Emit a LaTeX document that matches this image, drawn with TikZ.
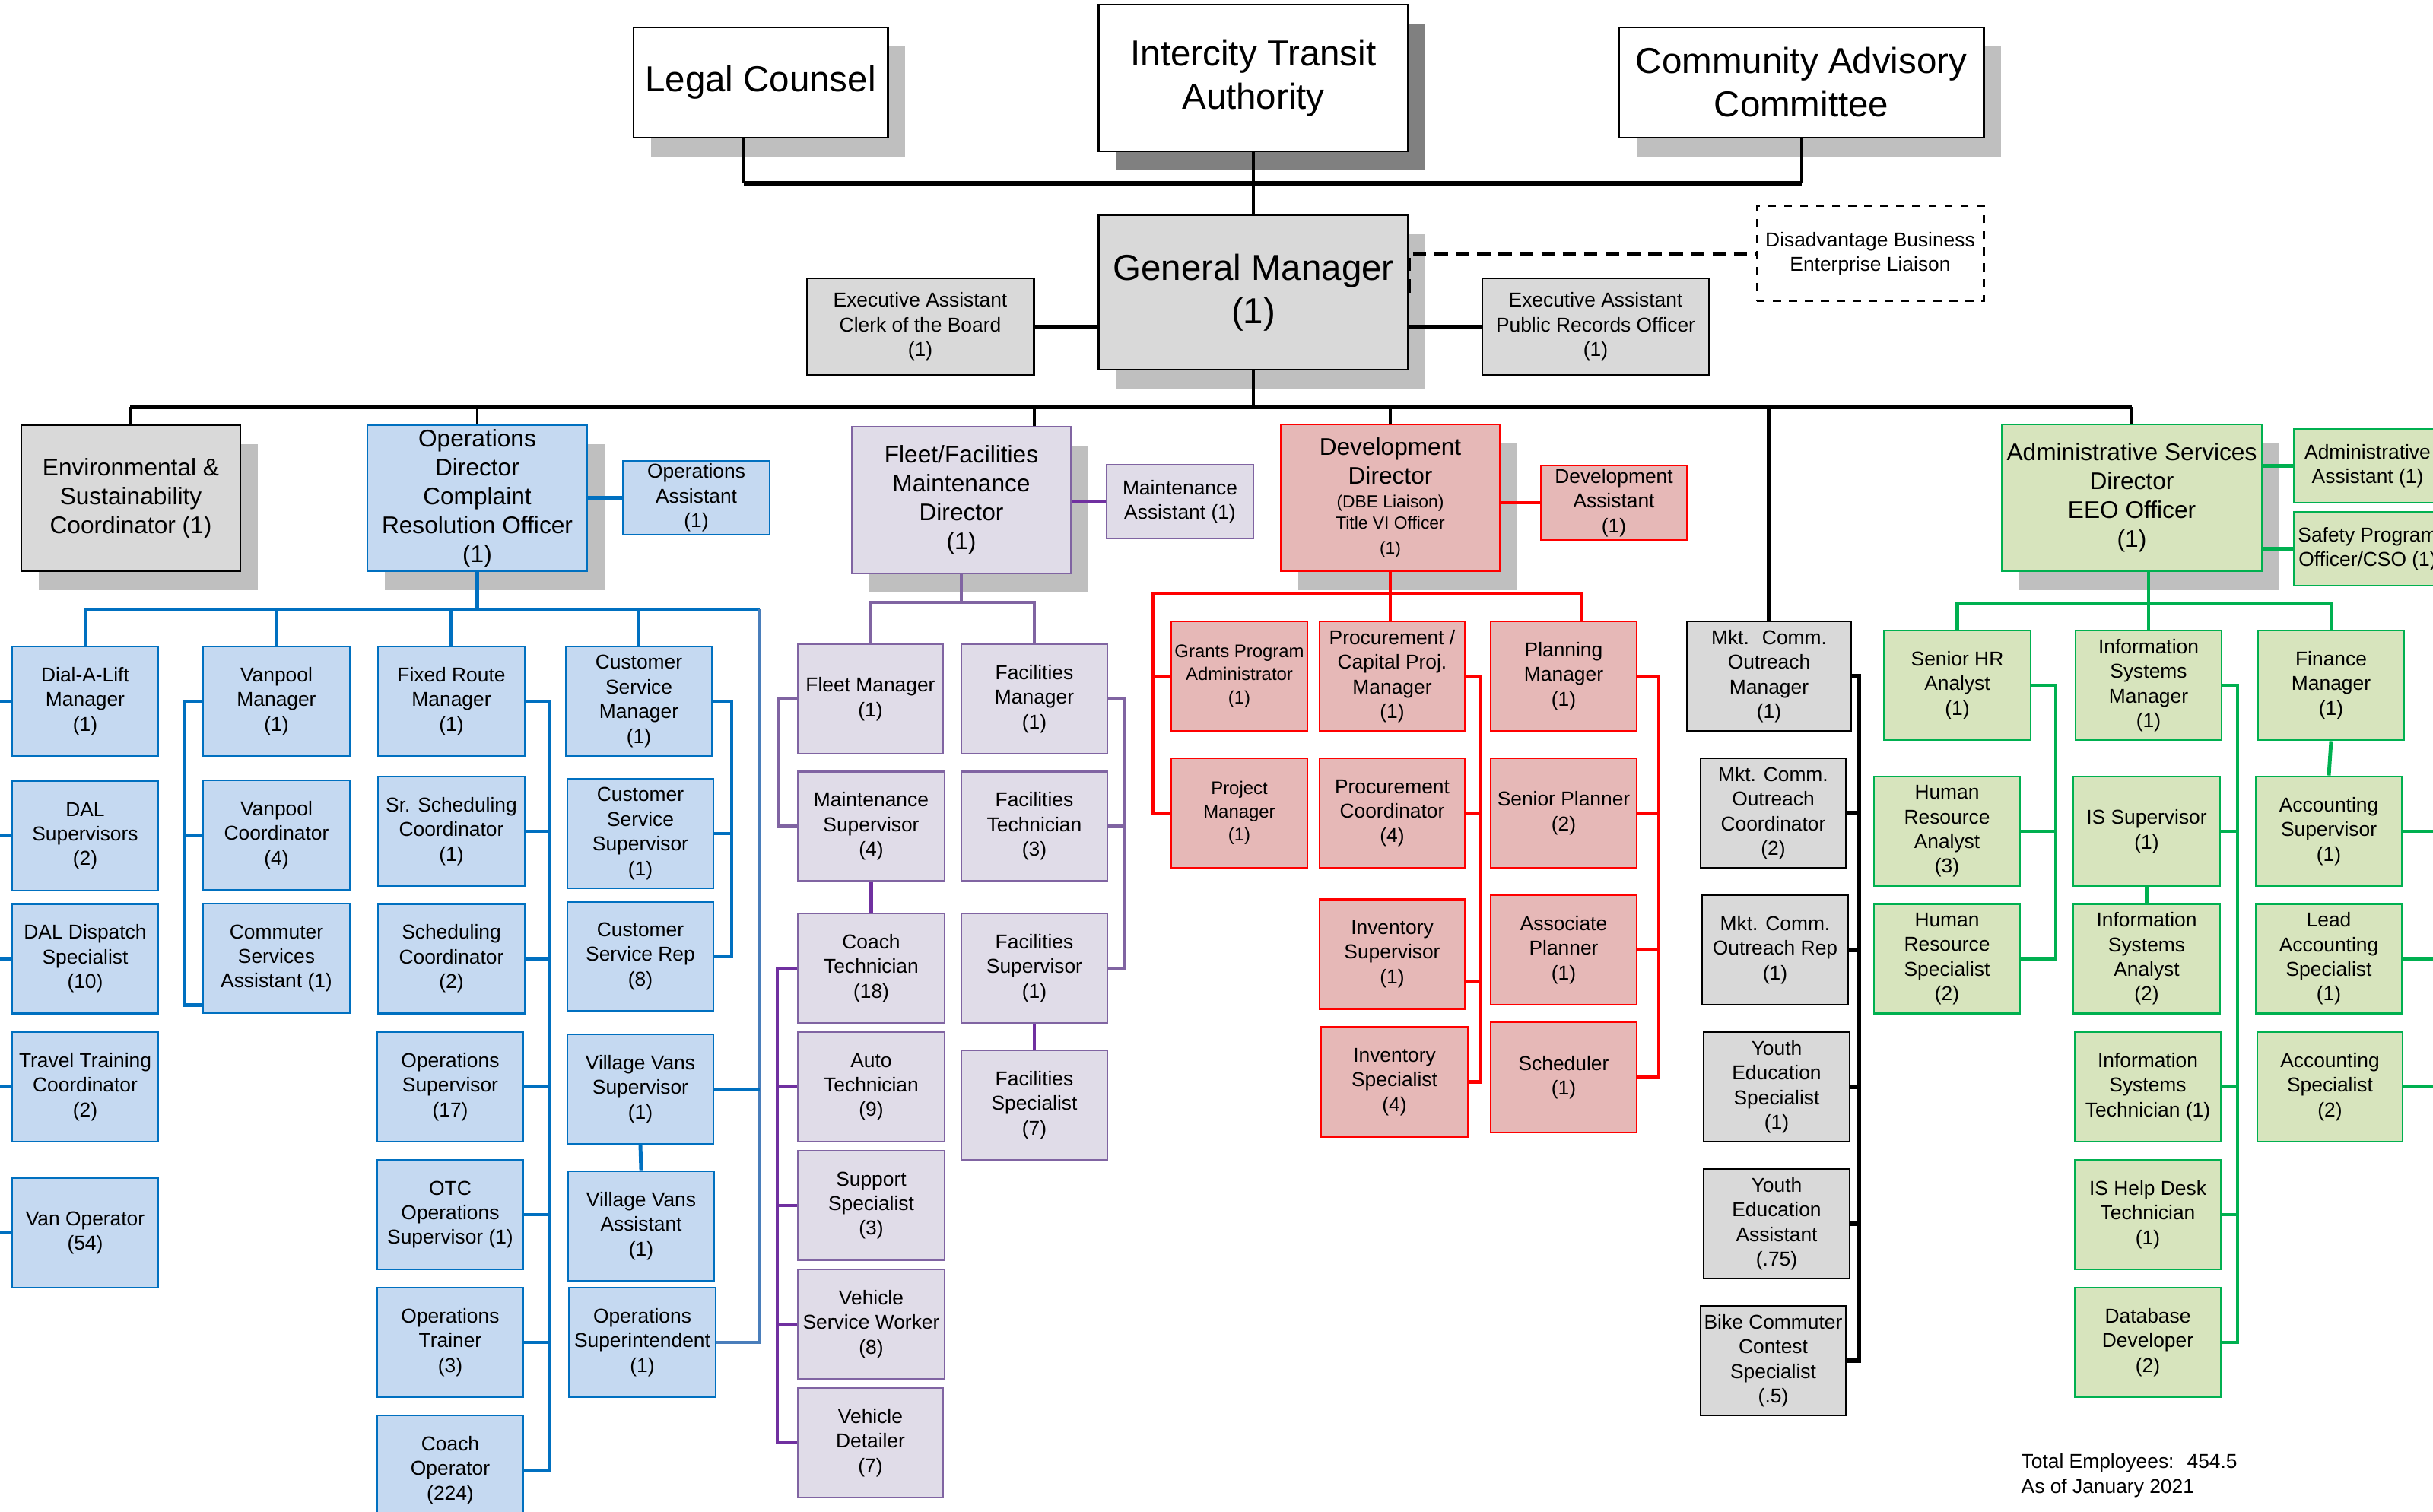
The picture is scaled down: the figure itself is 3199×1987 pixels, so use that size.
\documentclass[tikz,border=0pt]{standalone}
\usepackage{fontspec}
\setmainfont{Liberation Sans}
\usetikzlibrary{shadows,calc}

\definecolor{grayfill}{HTML}{D9D9D9}
\definecolor{shadowgray}{HTML}{BFBFBF}
\definecolor{darkshadow}{HTML}{808080}
\definecolor{opsfill}{HTML}{C5D9F1}
\definecolor{opsdraw}{HTML}{0070C0}
\definecolor{opsdraw2}{HTML}{4A7EBB}
\definecolor{fleetfill}{HTML}{E0DCE8}
\definecolor{fleetdraw}{HTML}{8064A2}
\definecolor{fleetdraw2}{HTML}{7030A0}
\definecolor{devfill}{HTML}{E6B8B7}
\definecolor{devdraw}{HTML}{FF0000}
\definecolor{admfill}{HTML}{D7E4BD}
\definecolor{admdraw}{HTML}{00B050}

\tikzset{
  orgbox/.style={draw, line width=0.8pt, align=center, inner sep=0pt,
    minimum width=1.92cm, minimum height=1.44cm,
    font=\fontsize{7.5}{9.2}\selectfont},
  topbox/.style={orgbox, fill=white, font=\fontsize{13.5}{16.2}\selectfont},
  dirbox/.style={orgbox, minimum width=2.88cm, minimum height=1.92cm,
    font=\fontsize{9}{10.8}\selectfont},
  smalltxt/.style={font=\fontsize{6.8}{8.6}\selectfont},
  boxshadow/.style={drop shadow={shadow xshift=0.23cm, shadow yshift=-0.25cm,
    fill=shadowgray, opacity=1}},
  darkboxshadow/.style={drop shadow={shadow xshift=0.23cm, shadow yshift=-0.25cm,
    fill=darkshadow, opacity=1}},
  graycol/.style={fill=grayfill, draw=black},
  opscol/.style={fill=opsfill, draw=opsdraw},
  fleetcol/.style={fill=fleetfill, draw=fleetdraw},
  devcol/.style={fill=devfill, draw=devdraw},
  admcol/.style={fill=admfill, draw=admdraw},
  thinline/.style={draw=black, line width=1pt},
  thickline/.style={draw=black, line width=1.6pt},
  dashline/.style={draw=black, line width=1.6pt, dash pattern=on 5pt off 3pt},
  opsline/.style={draw=opsdraw, line width=1.4pt},
  opsline2/.style={draw=opsdraw2, line width=1.4pt},
  fleetline/.style={draw=fleetdraw, line width=1.4pt},
  fleetline2/.style={draw=fleetdraw2, line width=1.4pt},
  devline/.style={draw=devdraw, line width=1.4pt},
  admline/.style={draw=admdraw, line width=1.4pt}
}

\begin{document}
\begin{tikzpicture}[x=0.01cm,y=-0.01cm]
\useasboundingbox (0,0) rectangle (3199,1987);
\clip (0,0) rectangle (3199,1987);

% board and general manager
\node[topbox, darkboxshadow, minimum width=4.06cm, minimum height=1.93cm] (ita) at (1648,102.5) {Intercity Transit\\Authority};
\node[topbox, boxshadow, minimum width=3.34cm, minimum height=1.45cm] (legal) at (1000,108.5) {Legal Counsel};
\node[topbox, boxshadow, minimum width=4.79cm, minimum height=1.45cm] (cac) at (2368.5,108.5) {Community Advisory\\Committee};
\node[orgbox, graycol, boxshadow, font=\fontsize{13.5}{16.2}\selectfont, minimum width=4.06cm, minimum height=2.03cm] (gm) at (1648,384.5) {General Manager\\(1)};
\node[orgbox, graycol, minimum width=2.98cm, minimum height=1.27cm] (eaclerk) at (1210,429.5) {Executive Assistant\\Clerk of the Board\\(1)};
\node[orgbox, graycol, minimum width=2.98cm, minimum height=1.27cm] (eapublic) at (2098,429.5) {Executive Assistant\\Public Records Officer\\(1)};
\node[orgbox, dashed, fill=white, minimum width=2.98cm, minimum height=1.25cm] (dbe) at (2459,333.5) {Disadvantage Business\\Enterprise Liaison};

\coordinate (topbarL) at (978,241);
\draw[thickline] (topbarL) -- (topbarL -| cac.south);
\draw[thinline] (topbarL |- legal.south) -- (topbarL);
\draw[thinline] (cac.south) -- (cac.south |- topbarL);
\draw[thinline] (ita.south) -- (gm.north);
\draw[thickline] (gm.west |- eaclerk.east) -- (eaclerk.east);
\draw[thickline] (gm.east |- eapublic.west) -- (eapublic.west);
\draw[dashline] (gm.east) |- (dbe.west);

% directors
\node[dirbox, graycol, boxshadow] (env) at (172,655) {Environmental \&\\Sustainability\\Coordinator (1)};
\node[dirbox, opscol, boxshadow, minimum width=2.89cm] (opsdir) at (627.5,655) {Operations\\Director\\Complaint\\Resolution Officer\\(1)};
\node[orgbox, opscol, minimum width=1.93cm, minimum height=0.97cm] (opsasst) at (915.5,654.5) {Operations\\Assistant\\(1)};
\node[dirbox, fleetcol, boxshadow, minimum height=1.93cm] (fleetdir) at (1264,657.5) {Fleet/Facilities\\Maintenance\\Director\\(1)};
\node[orgbox, fleetcol, minimum width=1.93cm, minimum height=0.97cm] (maintasst) at (1551.5,659.5) {Maintenance\\Assistant (1)};
\node[dirbox, devcol, boxshadow, minimum height=1.93cm] (devdir) at (1828,654.5) {Development\\Director\\[-2pt]{\fontsize{6.5}{8}\selectfont(DBE Liaison)}\\[-2.8pt]{\fontsize{6.5}{8}\selectfont Title VI Officer}\\[-1.6pt]{\fontsize{6.5}{8}\selectfont(1)}};
\node[orgbox, devcol, minimum height=0.98cm] (devasst) at (2122,661) {Development\\Assistant\\(1)};
\node[dirbox, admcol, boxshadow, minimum width=3.42cm, minimum height=1.93cm] (admdir) at (2803,654.5) {Administrative Services\\Director\\EEO Officer\\(1)};
\node[orgbox, admcol, minimum width=1.94cm, minimum height=0.97cm] (admasst) at (3113,612.5) {Administrative\\Assistant (1)};
\node[orgbox, admcol, minimum width=1.94cm, minimum height=0.97cm] (safety) at (3113,721.5) {Safety Program\\Officer/CSO (1)};

\coordinate (mainbusL) at (171,535);
\draw[thickline] (mainbusL) -- (admdir.north |- mainbusL);
\draw[thinline] (gm.south) -- (gm.south |- mainbusL);
\draw[thinline] (env.north) -- (mainbusL);
\draw[thinline] (opsdir.north) -- (opsdir.north |- mainbusL);
\draw[thinline] ($(fleetdir.north)+(96,0)$) -- ($(fleetdir.north |- mainbusL)+(96,0)$);
\draw[thinline] (devdir.north) -- (devdir.north |- mainbusL);
\draw[thinline] (admdir.north) -- (admdir.north |- mainbusL);
\draw[opsline] (opsdir.east |- opsasst.west) -- (opsasst.west);
\draw[fleetline2] (fleetdir.east |- maintasst.west) -- (maintasst.west);
\draw[devline] (devdir.east |- devasst.west) -- (devasst.west);
\draw[admline] (admdir.east |- admasst.west) -- (admasst.west);
\draw[admline] (admdir.east |- safety.west) -- (safety.west);

% operations
\node[orgbox, opscol] (dal) at (112,922) {Dial-A-Lift\\Manager\\(1)};
\node[orgbox, opscol] (dalsup) at (112,1099) {DAL\\Supervisors\\(2)};
\node[orgbox, opscol] (dalsp) at (112,1260.5) {DAL Dispatch\\Specialist\\(10)};
\node[orgbox, opscol] (travel) at (112,1429) {Travel Training\\Coordinator\\(2)};
\node[orgbox, opscol] (vanop) at (112,1621) {Van Operator\\(54)};
\node[orgbox, opscol, minimum width=1.93cm] (vpm) at (363.5,922) {Vanpool\\Manager\\(1)};
\node[orgbox, opscol, minimum width=1.93cm] (vpc) at (363.5,1098) {Vanpool\\Coordinator\\(4)};
\node[orgbox, opscol, minimum width=1.93cm] (csa) at (363.5,1260) {Commuter\\Services\\Assistant (1)};
\node[orgbox, opscol, minimum width=1.93cm] (frm) at (593.5,922) {Fixed Route\\Manager\\(1)};
\node[orgbox, opscol, minimum width=1.93cm] (ssc) at (593.5,1093) {Sr. Scheduling\\Coordinator\\(1)};
\node[orgbox, opscol, minimum width=1.93cm] (sc) at (593.5,1260.5) {Scheduling\\Coordinator\\(2)};
\node[orgbox, opscol] (opsup) at (592,1429) {Operations\\Supervisor\\(17)};
\node[orgbox, opscol] (otc) at (592,1597) {OTC\\Operations\\Supervisor (1)};
\node[orgbox, opscol] (trainer) at (592,1765) {Operations\\Trainer\\(3)};
\node[orgbox, opscol] (coachop) at (592,1933) {Coach\\Operator\\(224)};
\node[orgbox, opscol] (csm) at (840,922) {Customer\\Service\\Manager\\(1)};
\node[orgbox, opscol] (css) at (842,1096) {Customer\\Service\\Supervisor\\(1)};
\node[orgbox, opscol] (csr) at (842,1257.5) {Customer\\Service Rep\\(8)};
\node[orgbox, opscol] (vvs) at (842,1432) {Village Vans\\Supervisor\\(1)};
\node[orgbox, opscol] (vva) at (843,1612) {Village Vans\\Assistant\\(1)};
\node[orgbox, opscol, minimum width=1.93cm] (opsupt) at (844.5,1765) {Operations\\Superintendent\\(1)};

\coordinate (opsbusR) at (999,801);
\coordinate (leftedge) at (0,0);
\coordinate (frline) at (723,0);
\coordinate (csline) at (962,0);
\draw[opsline] (opsdir.south) -- (opsdir.south |- opsbusR);
\draw[opsline] (dal.north) |- (opsbusR);
\draw[opsline] (vpm.north) -- (vpm.north |- opsbusR);
\draw[opsline] (frm.north) -- (frm.north |- opsbusR);
\draw[opsline] (csm.north) -- (csm.north |- opsbusR);
\draw[opsline2] (opsbusR) |- (opsupt.east);
\draw[opsline] (vvs.east) -- (vvs.east -| opsbusR);
\draw[opsline] (vvs.south) -- (vva.north);
\foreach \n in {dal,dalsup,dalsp,travel,vanop}
  \draw[opsline] (\n.west) -- (\n.west -| leftedge);
\draw[opsline] (vpm.west) -- ++(-23,0) |- ($(csa.south west)+(0,-12)$);
\draw[opsline] (vpc.west) -- ++(-23,0);
\draw[opsline] (frm.east) -- (frm.east -| frline) -- (coachop.east -| frline) -- (coachop.east);
\foreach \n in {ssc,sc,opsup,otc,trainer}
  \draw[opsline] (\n.east) -- (\n.east -| frline);
\draw[opsline] (csm.east) -- (csm.east -| csline) -- (csr.east -| csline) -- (csr.east);
\draw[opsline] (css.east) -- (css.east -| csline);

% fleet and facilities
\node[orgbox, fleetcol, minimum width=1.91cm] (fm) at (1144.5,919) {Fleet Manager\\(1)};
\node[orgbox, fleetcol] (facm) at (1360,919) {Facilities\\Manager\\(1)};
\node[orgbox, fleetcol, minimum width=1.93cm] (ms) at (1145.5,1086.5) {Maintenance\\Supervisor\\(4)};
\node[orgbox, fleetcol] (ft) at (1360,1086.5) {Facilities\\Technician\\(3)};
\node[orgbox, fleetcol, minimum width=1.93cm] (ct) at (1145.5,1273) {Coach\\Technician\\(18)};
\node[orgbox, fleetcol] (fs) at (1360,1273) {Facilities\\Supervisor\\(1)};
\node[orgbox, fleetcol, minimum width=1.93cm] (autotech) at (1145.5,1429) {Auto\\Technician\\(9)};
\node[orgbox, fleetcol, minimum width=1.93cm] (supspec) at (1145.5,1585) {Support\\Specialist\\(3)};
\node[orgbox, fleetcol, minimum width=1.93cm] (vsw) at (1145.5,1741) {Vehicle\\Service Worker\\(8)};
\node[orgbox, fleetcol, minimum width=1.91cm] (vdet) at (1144.5,1897) {Vehicle\\Detailer\\(7)};
\node[orgbox, fleetcol] (fspec) at (1360,1453) {Facilities\\Specialist\\(7)};

\coordinate (fleetbus) at (1264,792);
\coordinate (fmline) at (1024,0);
\coordinate (facline) at (1479,0);
\coordinate (ctline) at (1022,0);
\draw[fleetline] (fleetdir.south) -- (fleetbus);
\draw[fleetline] (fm.north) |- (fleetbus) -| (facm.north);
\draw[fleetline] (fm.west) -- (fm.west -| fmline) -- (ms.west -| fmline) -- (ms.west);
\draw[fleetline] (facm.east) -- (facm.east -| facline) -- (fs.east -| facline) -- (fs.east);
\draw[fleetline] (ft.east) -- (ft.east -| facline);
\draw[fleetline2] (ms.south) -- (ct.north);
\draw[fleetline2] (fs.south) -- (fspec.north);
\draw[fleetline2] (ct.west) -- (ct.west -| ctline) -- (vdet.west -| ctline) -- (vdet.west);
\foreach \n in {autotech,supspec,vsw}
  \draw[fleetline2] (\n.west) -- (\n.west -| ctline);

% development
\node[orgbox, devcol, smalltxt, minimum width=1.79cm] (gpa) at (1629.5,889) {Grants Program\\Administrator\\(1)};
\node[orgbox, devcol, minimum width=1.91cm] (pcpm) at (1830.5,889) {Procurement /\\Capital Proj.\\Manager\\(1)};
\node[orgbox, devcol] (plm) at (2056,889) {Planning\\Manager\\(1)};
\node[orgbox, devcol, smalltxt, minimum width=1.79cm] (pm) at (1629.5,1069) {Project\\Manager\\(1)};
\node[orgbox, devcol, minimum width=1.91cm] (pc) at (1830.5,1069) {Procurement\\Coordinator\\(4)};
\node[orgbox, devcol] (sp) at (2056,1069) {Senior Planner\\(2)};
\node[orgbox, devcol, minimum width=1.91cm] (invsup) at (1830.5,1254.5) {Inventory\\Supervisor\\(1)};
\node[orgbox, devcol] (ap) at (2056,1249) {Associate\\Planner\\(1)};
\node[orgbox, devcol, minimum width=1.93cm, minimum height=1.45cm] (invspec) at (1833.5,1422.5) {Inventory\\Specialist\\(4)};
\node[orgbox, devcol, minimum height=1.45cm] (sched) at (2056,1416.5) {Scheduler\\(1)};

\coordinate (devbusL) at (1516,780);
\coordinate (devbusR) at (2080,780);
\coordinate (pcline) at (1947,0);
\coordinate (plline) at (2181,0);
\draw[devline] (devdir.south) -- (devdir.south |- pcpm.north);
\draw[devline] (devbusR |- plm.north) -- (devbusR) -- (devbusL) |- (pm.west);
\draw[devline] (gpa.west) -- (gpa.west -| devbusL);
\draw[devline] (pcpm.east) -- (pcpm.east -| pcline) -- (invspec.east -| pcline) -- (invspec.east);
\draw[devline] (pc.east) -- (pc.east -| pcline);
\draw[devline] ($(invsup.east)+(0,36)$) -- ($(invsup.east -| pcline)+(0,36)$);
\draw[devline] (plm.east) -- (plm.east -| plline) -- (sched.east -| plline) -- (sched.east);
\foreach \n in {sp,ap}
  \draw[devline] (\n.east) -- (\n.east -| plline);

% marketing and outreach
\node[orgbox, graycol, minimum width=2.16cm] (mcm) at (2326,889) {Mkt.~ Comm.\\Outreach\\Manager\\(1)};
\node[orgbox, graycol, minimum width=1.91cm] (mcc) at (2331.5,1069) {Mkt. Comm.\\Outreach\\Coordinator\\(2)};
\node[orgbox, graycol] (mcr) at (2334,1249) {Mkt. Comm.\\Outreach Rep\\(1)};
\node[orgbox, graycol] (yes) at (2336,1429) {Youth\\Education\\Specialist\\(1)};
\node[orgbox, graycol] (yea) at (2336,1609) {Youth\\Education\\Assistant\\(.75)};
\node[orgbox, graycol, minimum width=1.91cm] (bccs) at (2331.5,1789) {Bike Commuter\\Contest\\Specialist\\(.5)};

\coordinate (mktline) at (2444,0);
\draw[thickline] (mcm.north) -- (mcm.north |- mainbusL);
\draw[thickline] (mcm.east) -- (mcm.east -| mktline) -- (bccs.east -| mktline) -- (bccs.east);
\foreach \n in {mcc,mcr,yes,yea}
  \draw[thickline] (\n.east) -- (\n.east -| mktline);

% administrative services
\node[orgbox, admcol, minimum width=1.93cm] (shr) at (2573.5,901) {Senior HR\\Analyst\\(1)};
\node[orgbox, admcol] (ism) at (2825,901) {Information\\Systems\\Manager\\(1)};
\node[orgbox, admcol] (finmgr) at (3065,901) {Finance\\Manager\\(1)};
\node[orgbox, admcol] (hra) at (2560,1093) {Human\\Resource\\Analyst\\(3)};
\node[orgbox, admcol, minimum width=1.93cm] (iss) at (2822.5,1093) {IS Supervisor\\(1)};
\node[orgbox, admcol] (acs) at (3062,1093) {Accounting\\Supervisor\\(1)};
\node[orgbox, admcol] (hrs) at (2560,1260.5) {Human\\Resource\\Specialist\\(2)};
\node[orgbox, admcol, minimum width=1.93cm] (isa) at (2822.5,1260.5) {Information\\Systems\\Analyst\\(2)};
\node[orgbox, admcol] (las) at (3062,1260.5) {Lead\\Accounting\\Specialist\\(1)};
\node[orgbox, admcol] (ist) at (2824,1429) {Information\\Systems\\Technician (1)};
\node[orgbox, admcol] (ishd) at (2824,1597) {IS Help Desk\\Technician\\(1)};
\node[orgbox, admcol] (dbd) at (2824,1765) {Database\\Developer\\(2)};
\node[orgbox, admcol, minimum width=1.91cm] (acsp) at (3063.5,1429) {Accounting\\Specialist\\(2)};

\coordinate (admbus) at (2825,793);
\coordinate (hrline) at (2703,0);
\coordinate (isline) at (2942,0);
\coordinate (rightedge) at (3199,0);
\draw[admline] (admdir.south -| ism.north) -- (ism.north);
\draw[admline] (shr.north) |- (admbus) -| (finmgr.north);
\draw[admline] (shr.east) -- (shr.east -| hrline) -- (hrs.east -| hrline) -- (hrs.east);
\draw[admline] (hra.east) -- (hra.east -| hrline);
\draw[admline] (ism.east) -- (ism.east -| isline) -- (dbd.east -| isline) -- (dbd.east);
\foreach \n in {iss,ist,ishd}
  \draw[admline] (\n.east) -- (\n.east -| isline);
\draw[admline] (iss.south) -- (isa.north);
\draw[admline] (finmgr.south) -- (acs.north);
\foreach \n in {acs,las,acsp}
  \draw[admline] (\n.east) -- (\n.east -| rightedge);

\node[anchor=west, align=left, inner sep=0pt, font=\fontsize{7.5}{9.2}\selectfont] (total) at (2657,1940) {Total Employees:~ 454.5\\As of January 2021};
\end{tikzpicture}
\end{document}
